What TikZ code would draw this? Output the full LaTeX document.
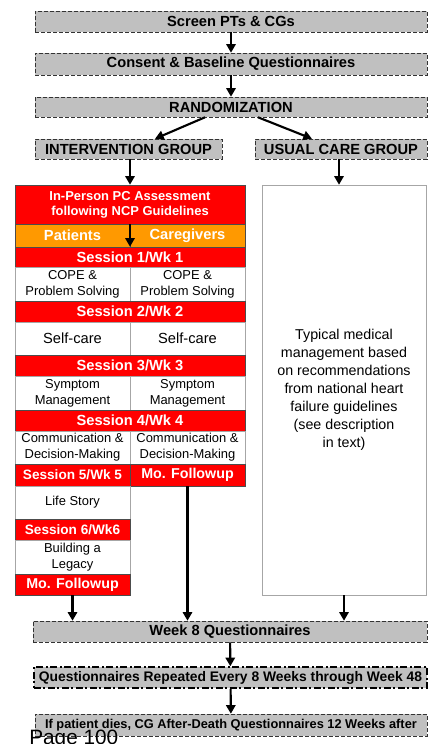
\documentclass[tikz,border=0pt]{standalone}
\usepackage{fontspec}
\setmainfont{Liberation Sans}
\usetikzlibrary{positioning, arrows.meta}

\definecolor{boxgrey}{RGB}{192,192,192}
\definecolor{barorange}{RGB}{255,153,0}

\begin{document}
\begin{tikzpicture}[
        x=0.75pt, y=-0.75pt,
        >={Triangle[length=6.5pt, width=7pt]},
        greybox/.style={rectangle, draw=gray!40!black, dashed, dash pattern=on 3pt off 1.5pt,
            fill=boxgrey, inner sep=0pt, minimum width=294pt, minimum height=15.75pt,
            font=\fontsize{11}{13}\selectfont\bfseries},
        redbar/.style={rectangle, draw=gray!60!black, line width=0.4pt, fill=red, text=white,
            inner sep=0pt, minimum height=15.75pt, font=\fontsize{11}{13}\selectfont\bfseries},
        orangebar/.style={redbar, fill=barorange, minimum width=86.25pt, minimum height=17.25pt},
        cell/.style={rectangle, draw=gray!70, line width=0.4pt, fill=white, inner sep=0pt,
            minimum width=86.25pt, minimum height=25.5pt, align=center,
            font=\fontsize{9.7}{12}\selectfont},
        flow/.style={->, line width=1.6pt}
    ]
    \useasboundingbox (0,0) rectangle (433,744);

    %% ---- Screening and randomization ----
    \node[greybox] (screen)  at (231,21.5) {Screen PTs \& CGs};
    \node[greybox, minimum height=16.5pt] (consent) at (231,64) {Consent \& Baseline Questionnaires};
    \node[greybox, minimum height=15pt] (rand) at (231,107) {RANDOMIZATION};

    %% ---- Groups ----
    \node[greybox, minimum width=140.25pt, minimum height=15pt] (interv) at (128.5,149) {INTERVENTION GROUP};
    \node[greybox, minimum width=129pt, minimum height=15pt] (usual) at (341,149) {USUAL CARE GROUP};

    %% ---- Intervention sessions ----
    \node[redbar, minimum width=172.5pt, minimum height=29.25pt, align=center,
        font=\fontsize{9.7}{11.25}\selectfont\bfseries] (assess) at (130,204.5)
        {In-Person PC Assessment\\following NCP Guidelines};
    \node[orangebar] (patients)   at (72.5,235.5)  {Patients};
    \node[orangebar] (caregivers) at (187.5,235.5) {Caregivers};

    \node[redbar, minimum width=172.5pt, minimum height=15pt] (sess1) at (130,257) {Session 1/Wk 1};
    \node[cell] (cope1) at (72.5,284)  {COPE \&\\Problem Solving};
    \node[cell] (cope2) at (187.5,284) {COPE \&\\Problem Solving};

    \node[redbar, minimum width=172.5pt] (sess2) at (130,311.5) {Session 2/Wk 2};
    \node[cell, minimum height=24.75pt, font=\fontsize{11}{13}\selectfont] (self1) at (72.5,338.5)  {Self-care};
    \node[cell, minimum height=24.75pt, font=\fontsize{11}{13}\selectfont] (self2) at (187.5,338.5) {Self-care};

    \node[redbar, minimum width=172.5pt] (sess3) at (130,365.5) {Session 3/Wk 3};
    \node[cell] (symp1) at (72.5,393)  {Symptom\\Management};
    \node[cell] (symp2) at (187.5,393) {Symptom\\Management};

    \node[redbar, minimum width=172.5pt] (sess4) at (130,420.5) {Session 4/Wk 4};
    \node[cell, minimum height=24.75pt] (comm1) at (72.5,447.5)  {Communication \&\\Decision-Making};
    \node[cell, minimum height=24.75pt] (comm2) at (187.5,447.5) {Communication \&\\Decision-Making};

    \node[redbar, minimum width=86.25pt, minimum height=16.5pt,
        font=\fontsize{10.2}{12}\selectfont\bfseries] (sess5) at (72.5,475) {Session 5/Wk 5};
    \node[redbar, minimum width=86.25pt, minimum height=16.5pt,
        font=\fontsize{10.7}{12}\selectfont\bfseries] (mofr) at (187.5,475) {Mo. Followup};
    \node[cell, minimum height=24.75pt] (life) at (72.5,502.5) {Life Story};

    \node[redbar, minimum width=86.25pt,
        font=\fontsize{10.2}{12}\selectfont\bfseries] (sess6) at (72.5,529.5) {Session 6/Wk6};
    \node[cell] (legacy) at (72.5,557) {Building a\\Legacy};
    \node[redbar, minimum width=86.25pt,
        font=\fontsize{10.7}{12}\selectfont\bfseries] (mofl) at (72.5,584.5) {Mo. Followup};

    %% ---- Usual care ----
    \node[cell, minimum width=123pt, minimum height=307.5pt,
        font=\fontsize{10.7}{13.5}\selectfont] (usualbox) at (344,390)
        {Typical medical\\management based\\on recommendations\\from national heart\\failure guidelines\\(see description\\in text)};

    %% ---- Follow-up questionnaires ----
    \node[greybox, minimum width=295.5pt] (week8) at (230,631.5) {Week 8 Questionnaires};
    \node[greybox, minimum width=294.75pt, draw=black, line width=1.1pt,
        dash pattern=on 5pt off 2pt on 1.5pt off 2pt,
        font=\fontsize{10.4}{12}\selectfont\bfseries] (rpt) at (230.5,677.5)
        {Questionnaires Repeated Every 8 Weeks through Week 48};
    \node[greybox, minimum height=16.5pt,
        font=\fontsize{9.6}{12}\selectfont\bfseries] (dies) at (231,725)
        {If patient dies, CG After-Death Questionnaires 12 Weeks after};

    \node[anchor=base west, inner sep=0pt, font=\fontsize{15.6}{18}\selectfont] (page) at (29,744) {Page 100};

    %% ---- Arrows ----
    \draw[flow] (screen) -- (consent);
    \draw[flow] (consent) -- (rand);
    \draw[flow] ([xshift=-19.5pt] rand.south) -- ([xshift=19.9pt] interv.north);
    \draw[flow] ([xshift=20.25pt] rand.south) -- ([xshift=-21.75pt] usual.north);
    \draw[flow] (assess.north |- interv.south) -- (assess.north);
    \draw[flow] (assess) -- (sess1);
    \draw[flow] ([xshift=-1.5pt] usual.south) -- ([xshift=-1.5pt] usual.south |- usualbox.north);
    \draw[flow] (mofl) -- (mofl |- week8.north);
    \draw[flow] (mofr) -- (mofr |- week8.north);
    \draw[flow] (usualbox) -- (usualbox |- week8.north);
    \draw[flow] (week8) -- (rpt);
    \draw[flow] (rpt) -- (dies);

\end{tikzpicture}
\end{document}
